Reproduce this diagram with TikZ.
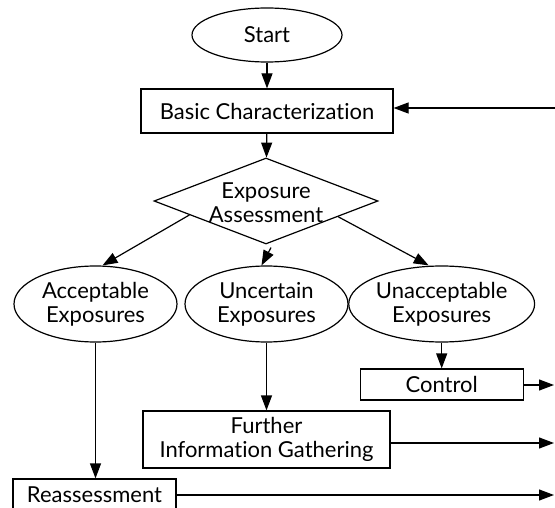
\documentclass[tikz,border=0pt]{standalone}
\usepackage{fontspec}
\setmainfont{Lato}[Ligatures={NoCommon,NoRequired,NoContextual}]
\usetikzlibrary{shapes.geometric,arrows.meta,calc}

\begin{document}
\begin{tikzpicture}[x=1pt,y=-1pt,line width=1.2pt,
        every node/.style={font=\fontsize{22}{24}\selectfont,align=center,inner sep=0pt},
        oval/.style={draw,ellipse,minimum width=163pt,minimum height=76pt},
        box/.style={draw,rectangle,minimum width=163pt,minimum height=31pt},
        decision/.style={draw,diamond,minimum width=224pt,minimum height=86pt},
        link/.style={-{Triangle[length=15pt,width=11pt]}}]
        \useasboundingbox (0,0) rectangle (555,508);
        \node[draw,ellipse,minimum width=150pt,minimum height=54pt] (start) at (267,35) {Start};
        \node[box,minimum width=252pt,minimum height=44pt] (basic) at (267,111) {Basic Characterization};
        \node[decision] (assess) at (266,201) {};
        \node (assesstext) at (266,203) {Exposure\\Assessment};
        \node[oval] (acc) at (95.5,304) {Acceptable\\Exposures};
        \node[oval] (unc) at (266.5,304) {Uncertain\\Exposures};
        \node[oval] (unacc) at (441.7,304) {Unacceptable\\Exposures};
        \node[box] (control) at (441.7,384.5) {Control};
        \node[box,minimum width=247pt,minimum height=57pt] (further) at (266.5,439.5) {Further\\Information Gathering};
        \node[box] (reassess) at (94.5,494.5) {Reassessment};
        \coordinate (backin) at (555,108);
        \coordinate (outC) at (554,385);
        \coordinate (outF) at (554,443);
        \coordinate (outR) at (554,495);
        \draw[link] (start) -- (basic);
        \draw[link] (backin) -- (backin -| basic.east);
        \draw[link] (basic) -- (assess);
        \draw[link] ($(assess.west)!0.32!(assess.south)$) -- ($(acc.north)+(7,0)$);
        \draw[link] ($(assess.south)+(5,3)$) -- ($(unc.north)+(-5,0)$);
        \draw[link] ($(assess.east)!0.36!(assess.south)$) -- ($(unacc.north)+(-13,0)$);
        \draw[link] (acc.south) -- (acc.south |- reassess.north);
        \draw[link] (unc) -- (further);
        \draw[link] (unacc) -- (control);
        \draw[link] (control.east |- outC) -- (outC);
        \draw[link] (further.east |- outF) -- (outF);
        \draw[link] (reassess.east |- outR) -- (outR);
    \end{tikzpicture}
\end{document}
